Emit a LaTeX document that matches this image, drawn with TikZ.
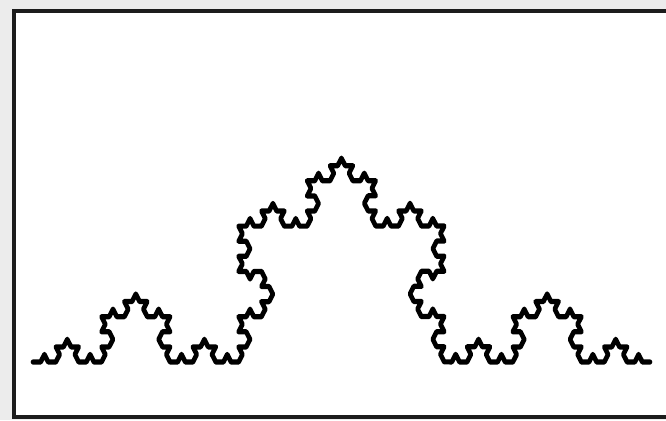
\documentclass[tikz,border=0pt]{standalone}
\usepackage{xcolor}
\usetikzlibrary{decorations.fractals}
\definecolor{panelgrey}{RGB}{236,236,236}
\definecolor{framedark}{RGB}{28,28,28}
\tikzset{
  frameline/.style={draw=framedark,line width=1.1pt},
  kochline/.style={line width=1.3pt,line join=round,line cap=round,
    decoration=Koch snowflake}
}

\begin{document}
\begin{tikzpicture}[x=0.01cm,y=0.01cm]
  \fill[panelgrey] (0,0) rectangle (666,420);
  \useasboundingbox (0,0) rectangle (666,420);
  \fill[white] (14,3) rectangle (670,409);
  \draw[frameline] (670,409) -- (14,409) -- (14,3) -- (670,3);
  % Koch curve, refined four times, stretched upwards a little
  \begin{scope}[transform canvas={yscale=1.145}]
    \draw[kochline] decorate{decorate{decorate{decorate{(33,50.66) -- (650,50.66)}}}};
  \end{scope}
\end{tikzpicture}
\end{document}
